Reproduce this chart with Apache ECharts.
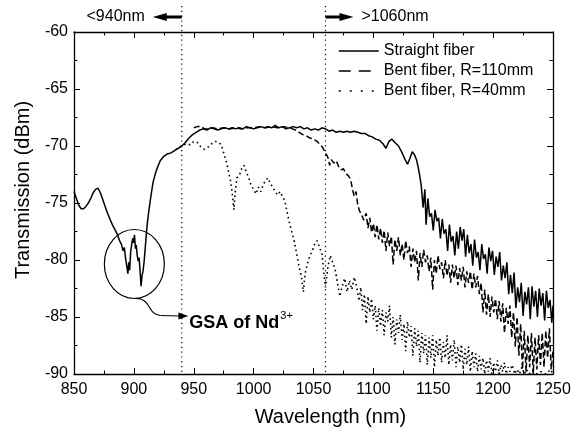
<!DOCTYPE html>
<html>
<head>
<meta charset="utf-8">
<script src="https://cdn.jsdelivr.net/npm/echarts@6/dist/echarts.min.js"></script>
<style>html,body{margin:0;padding:0;background:#fff}#c{width:583px;height:432px}</style>
</head>
<body>
<div id="c"></div>
<script>
// ---- data ----
const xTicks = [850, 900, 950, 1000, 1050, 1100, 1150, 1200, 1250];
const yTicks = [-90, -85, -80, -75, -70, -65, -60];
const seriesNames = ['Straight fiber', 'Bent fiber, R=110mm', 'Bent fiber, R=40mm'];

const straightNm = [850,852,854,856,858,860,862,864,866,868,870,872,874,876,878,880,882,884,886,888,889.5,891,892,893,894,895,895.7,896.5,897.3,898.2,899,899.8,900.5,901.3,902,902.8,903.6,904.4,905.2,906,906.8,907.6,908.5,909.3,910.2,911,912,913,914.5,916,918,920,922,925,928,931,934,937,940,943,946,949,952,955,958,961,964,967,970,973,976,979,982,985,988,991,994,997,1000,1003,1006,1009,1012,1015,1018,1021,1024,1027,1030,1033,1036,1039,1042,1045,1048,1051,1054,1057,1060,1063,1066,1069,1072,1075,1078,1081,1084,1087,1090,1093,1096,1099,1102,1105,1108,1110.5,1113,1115.5,1118,1121,1124,1126.5,1128.5,1130.5,1132.5,1134.5,1136,1137.5,1139,
1140,1141.5,1143,1144,1145.5,1147,1148.5,1150,1151.5,1153,1154.5,1156,1157.5,1159,1160.5,1162,1163.5,1165,1166.5,1168,1169.5,1171,1172.5,1174,1175.5,1177,1178.5,1180,1181.5,1183,1184.5,1186,1187.5,1189,1190.5,1192,1193.5,1195,1196.5,1198,1199.5,1201,1202.5,1204,1205.5,1207,1208.5,1210,1211.5,1213,1214.5,1216,1217.5,1219,1220.5,1222,1223.5,1225,1226.5,1228,1229.5,1231,1232.5,1234,1235.5,1237,1238.5,1240,1241.5,1243,1244.5,1246,1247.5,1249,1250];
const straightDb = [-74.0,-74.6,-75.2,-75.5,-75.5,-75.3,-75.0,-74.6,-74.1,-73.8,-73.7,-74.1,-74.7,-75.3,-75.9,-76.4,-76.9,-77.3,-77.7,-78.3,-78.6,-79.2,-78.9,-79.8,-80.5,-81.2,-80.2,-80.9,-79.3,-78.6,-78.1,-78.5,-77.8,-79.0,-78.7,-79.6,-80.1,-79.8,-81.0,-82.3,-81.4,-81.0,-80.2,-79.2,-78.0,-77.0,-76.1,-75.3,-74.2,-73.2,-72.4,-71.8,-71.3,-70.9,-70.7,-70.6,-70.4,-70.2,-70.0,-69.7,-69.3,-69.0,-68.8,-68.6,-68.5,-68.6,-68.4,-68.5,-68.6,-68.5,-68.4,-68.5,-68.4,-68.5,-68.4,-68.5,-68.3,-68.4,-68.5,-68.4,-68.3,-68.4,-68.3,-68.4,-68.2,-68.4,-68.3,-68.5,-68.4,-68.3,-68.4,-68.3,-68.5,-68.4,-68.6,-68.5,-68.6,-68.4,-68.5,-68.7,-68.6,-68.8,-68.7,-68.8,-68.7,-68.8,-68.7,-68.8,-68.9,-68.9,-69.1,-69.2,-69.4,-69.5,-69.8,-70.2,-69.6,-69.4,-69.7,-70.0,-70.6,-71.2,-71.6,-71.1,-70.5,-70.8,-71.2,-71.9,-72.8,
-73.5,-75.4,-73.8,-76.9,-74.6,-76.2,-75.9,-77.4,-75.6,-76.6,-76.3,-78.1,-76.4,-77.7,-77.3,-79.2,-76.9,-78.4,-77.9,-79.6,-77.5,-79.0,-77.1,-78.3,-77.3,-79.7,-77.8,-79.4,-78.6,-80.5,-78.2,-79.8,-79.3,-80.9,-78.6,-79.9,-79.5,-81.2,-78.9,-80.1,-79.2,-81.3,-79.7,-80.6,-79.3,-81.8,-80.5,-81.6,-80.2,-83.0,-81.3,-82.9,-81.1,-84.2,-82.4,-83.7,-82.0,-84.9,-82.8,-83.9,-82.4,-85.2,-82.3,-84.1,-82.7,-85.0,-82.5,-84.0,-82.9,-85.3,-82.7,-84.2,-83.5,-85.5,-84.0];

const bent110Nm = [950,953,956,959,962,966,970,975,980,985,990,995,1000,1005,1010,1015,1020,1025,1030,1035,1038,1041,1044,1047,1050,1053,1056,1058,1060,1062,1063.5,1065,1067,1069,1071,1073,1075,1077,1079,1081,1082.5,1084,1085.5,1087,1088.5,1090,
1092,1094,1095.5,1097,1098.5,1100,1101.5,1103,1104.5,1106,1107.5,1109,1110.5,1112,1113.5,1115,1116.5,1118,1119.5,1121,1122.5,1124,1125.5,1127,1128.5,1130,1131.5,1133,1134.5,1136,1137.5,1139,1140.5,1142,1143.5,1145,1146.5,1148,1149.5,1151,1152.5,1154,1155.5,1157,1158.5,1160,1161.5,1163,1164.5,1166,1167.5,1169,1170.5,1172,1173.5,1175,1176.5,1178,1179.5,1181,1182.5,1184,1185.5,1187,1188.5,1190,1191.5,1193,1194.5,1196,1197.5,1199,1200.5,1202,1203.5,1205,1206.5,1208,1209.5,1211,1212.5,1214,1215.5,1217,1218.5,1220,1221.5,1223,1224.5,1226,1227.5,1229,1230.5,1232,1233.5,1235,1236.5,1238,1239.5,1241,1242.5,1244,1245.5,1247,1248.5,1250];
const bent110Db = [-68.4,-68.3,-68.3,-68.5,-68.5,-68.4,-68.5,-68.4,-68.5,-68.4,-68.5,-68.4,-68.4,-68.3,-68.4,-68.3,-68.4,-68.3,-68.4,-68.6,-68.8,-69.0,-69.1,-69.3,-69.4,-69.6,-69.9,-70.2,-70.6,-71.0,-71.7,-71.2,-71.5,-71.3,-71.8,-72.1,-72.0,-72.4,-72.6,-72.9,-73.8,-74.4,-74.0,-75.2,-75.7,-76.0,
-76.5,-75.9,-77.2,-76.3,-77.6,-76.8,-78.0,-76.9,-78.2,-77.2,-78.5,-77.4,-79.2,-77.6,-78.8,-77.9,-80.4,-78.2,-79.2,-78.0,-79.6,-78.6,-80.0,-78.3,-79.4,-78.8,-80.6,-79.0,-80.2,-79.2,-81.8,-79.4,-80.6,-79.1,-80.2,-79.6,-81.0,-79.8,-82.6,-80.0,-81.2,-79.6,-80.8,-80.2,-81.6,-80.0,-81.4,-80.4,-82.0,-80.4,-81.6,-80.5,-82.2,-80.7,-81.8,-80.6,-82.4,-81.0,-82.0,-81.0,-82.6,-81.2,-82.4,-81.4,-83.0,-82.0,-84.6,-82.6,-84.8,-83.0,-85.0,-83.2,-84.6,-83.4,-85.2,-83.6,-85.4,-83.8,-86.4,-84.2,-85.6,-84.0,-86.8,-84.6,-87.6,-85.0,-88.4,-85.6,-89.6,-86.2,-89.8,-86.6,-89.4,-86.4,-90.0,-86.8,-89.6,-86.6,-89.2,-86.4,-89.4,-86.2,-88.6,-86.0,-89.6,-88.0];

const bent40Nm = [935,940,944,947,950,953,956,959,962,965,968,971,973,975,977,979,981,982.5,983.5,984.5,986,988,990,992,994,996,998,1000,1002,1004,1006,1008,1010,1012,1014,1016,1018,1020,1022,1024,1026,1028,1030,1032,1034,1036,1038,1040,1041.5,1043,1045,1047,1049,1051,1053,1055,1057,1058.5,1060,1062,1064,1066,1068,1070,1072,1074,1076,1078,1080,1082,1084,1086,
1088,1089.5,1091,1092.5,1094,1095.5,1097,1098.5,1100,1101.5,1103,1104.5,1106,1107.5,1109,1110.5,1112,1113.5,1115,1116.5,1118,1119.5,1121,1122.5,1124,1125.5,1127,1128.5,1130,1131.5,1133,1134.5,1136,1137.5,1139,1140.5,1142,1143.5,1145,1146.5,1148,1149.5,1151,1152.5,1154,1155.5,1157,1158.5,1160,1161.5,1163,1164.5,1166,1167.5,1169,1170.5,1172,1173.5,1175,1176.5,1178,1179.5,1181,1182.5,1184,1185.5,1187,1188.5,1190,1191.5,1193,1194.5,1196,1197.5,1199,1200.5,1202,1203.5,1205,1206.5,1208,1209.5,1211,1212.5,1214,1216,1218,1220,1222,1224,1226,1228,1230,1233,1236,1240,1244,1248,1250];
const bent40Db = [-70.3,-70.0,-69.8,-69.9,-69.6,-69.7,-70.1,-70.3,-70.1,-69.8,-69.6,-69.7,-69.9,-70.6,-71.3,-72.2,-73.2,-74.5,-75.6,-74.2,-72.8,-72.6,-72.0,-71.7,-72.3,-72.8,-73.5,-73.8,-74.2,-73.6,-74.0,-73.4,-73.0,-72.8,-73.3,-73.6,-74.0,-74.3,-74.0,-74.4,-74.8,-75.8,-76.8,-77.6,-78.4,-79.5,-80.6,-81.5,-82.8,-81.2,-80.3,-79.6,-79.2,-78.6,-78.3,-78.9,-79.4,-81.0,-82.4,-80.6,-79.6,-80.2,-80.8,-82.0,-83.2,-82.3,-81.6,-82.8,-81.8,-82.6,-81.5,-82.3,
-83.6,-82.4,-84.4,-83.0,-85.6,-83.2,-84.6,-83.4,-85.2,-84.0,-86.2,-84.2,-85.8,-84.4,-86.6,-84.6,-85.4,-84.0,-86.8,-85.0,-87.4,-85.2,-86.4,-84.8,-87.0,-85.6,-88.0,-85.4,-86.8,-85.8,-88.4,-86.0,-87.6,-86.2,-89.0,-86.4,-88.2,-86.6,-89.2,-86.8,-88.6,-86.6,-89.4,-87.0,-88.4,-86.8,-89.0,-87.2,-88.6,-86.6,-89.2,-87.4,-88.8,-87.0,-89.4,-87.6,-89.0,-87.4,-89.6,-87.8,-89.2,-87.6,-89.8,-88.0,-89.4,-88.2,-89.8,-88.4,-89.6,-88.6,-90.0,-88.8,-89.8,-88.6,-90.0,-89.0,-89.8,-88.8,-90.0,-89.2,-89.8,-89.0,-90.0,-89.4,-89.8,-89.2,-90.0,-89.6,-90.0,-89.4,-90.0,-89.6,-90.0,-89.7,-90.0,-89.8,-90.0,-89.6,-90.0];

// annotation anchors (data units)
const refLinesNm = [940, 1060];
const refLabels = ['<940nm', '>1060nm'];
const gsaCenter = [900.4, -80.35];
const gsaLabel = 'GSA of Nd';
const gsaSup = '3+';

const FONT = '"Liberation Sans", Arial, Helvetica, sans-serif';
const pairs = (xs, ys) => xs.map((x, i) => [x, ys[i]]);

const chart = echarts.init(document.getElementById('c'), null, {renderer: 'canvas'});

const axisCommon = {
  type: 'value',
  axisLine: {show: true, onZero: false, lineStyle: {color: '#000', width: 1.3}},
  axisTick: {show: true, inside: true, length: 6, lineStyle: {color: '#000', width: 1}},
  minorTick: {show: true, splitNumber: 2, length: 3.5, lineStyle: {color: '#000', width: 1}},
  splitLine: {show: false},
  minorSplitLine: {show: false}
};
const plain = (v) => String(v);

const option = {
  animation: false,
  backgroundColor: '#fff',
  textStyle: {fontFamily: FONT},
  grid: {left: 74, right: 30, top: 32, bottom: 55, containLabel: false},
  xAxis: [
    Object.assign({}, axisCommon, {
      min: xTicks[0], max: xTicks[xTicks.length - 1], interval: 50, position: 'bottom',
      axisLabel: {color: '#000', fontSize: 16, margin: 8, fontFamily: FONT, formatter: plain},
      name: 'Wavelength (nm)', nameLocation: 'middle', nameGap: 33,
      nameTextStyle: {color: '#000', fontSize: 20, fontFamily: FONT, padding: [0, 0, 0, 34]}
    }),
    Object.assign({}, axisCommon, {
      min: xTicks[0], max: xTicks[xTicks.length - 1], interval: 50, position: 'top',
      axisLabel: {show: false}
    })
  ],
  yAxis: [
    Object.assign({}, axisCommon, {
      min: yTicks[0], max: yTicks[yTicks.length - 1], interval: 5, position: 'left',
      axisLabel: {color: '#000', fontSize: 16, margin: 6, fontFamily: FONT, formatter: plain},
      name: 'Transmission (dBm)', nameLocation: 'middle', nameGap: 39,
      nameTextStyle: {color: '#000', fontSize: 20, fontFamily: FONT, padding: [0, 0, 0, 26]}
    }),
    Object.assign({}, axisCommon, {
      min: yTicks[0], max: yTicks[yTicks.length - 1], interval: 5, position: 'right',
      axisLabel: {show: false}
    })
  ],
  legend: {
    orient: 'vertical', left: 338, top: 43, padding: 0,
    itemWidth: 40, itemHeight: 14, itemGap: 4,
    itemStyle: {opacity: 0},
    textStyle: {color: '#000', fontSize: 16, lineHeight: 16, fontFamily: FONT},
    data: [
      {name: seriesNames[0], itemStyle: {opacity: 0}, lineStyle: {color: '#000', width: 1.5, type: 'solid', opacity: 1}},
      {name: seriesNames[1], itemStyle: {opacity: 0}, lineStyle: {color: '#000', width: 1.5, type: [12, 8], opacity: 1}},
      {name: seriesNames[2], itemStyle: {opacity: 0}, lineStyle: {color: '#000', width: 1.5, type: [2, 9], opacity: 1}}
    ]
  },
  series: [
    {name: seriesNames[0], type: 'line', data: pairs(straightNm, straightDb), symbol: 'none', clip: true,
     lineStyle: {color: '#000', width: 1.5, type: 'solid'}, itemStyle: {color: '#000'}, z: 3},
    {name: seriesNames[1], type: 'line', data: pairs(bent110Nm, bent110Db), symbol: 'none', clip: true,
     lineStyle: {color: '#000', width: 1.5, type: [6, 3]}, itemStyle: {color: '#000'}, z: 2},
    {name: seriesNames[2], type: 'line', data: pairs(bent40Nm, bent40Db), symbol: 'none', clip: true,
     lineStyle: {color: '#000', width: 1.6, type: [1.6, 3.2]}, itemStyle: {color: '#000'}, z: 1}
  ]
};
chart.setOption(option);

// annotations placed through the axis scales
const px = (x, y) => chart.convertToPixel({xAxisIndex: 0, yAxisIndex: 0}, [x, y]);
const bottomY = px(850, -90)[1];
const g = [];
refLinesNm.forEach((nm) => {
  const x = px(nm, -90)[0];
  g.push({type: 'line', shape: {x1: x, y1: 6, x2: x, y2: bottomY},
          style: {stroke: '#000', lineWidth: 1.2, lineDash: [1.2, 3.6]}, z: 10});
});
(function () {
  const x = px(refLinesNm[0], -60)[0];
  const y = 17;
  g.push({type: 'line', shape: {x1: x - 16, y1: y, x2: x, y2: y}, style: {stroke: '#000', lineWidth: 3}, z: 10});
  g.push({type: 'polygon', shape: {points: [[x - 29, y], [x - 15, y - 4], [x - 15, y + 4]]}, style: {fill: '#000'}, z: 10});
  g.push({type: 'text', x: x - 37, y: y, style: {text: refLabels[0], font: '16px ' + FONT, fill: '#000', align: 'right', verticalAlign: 'middle'}, z: 10});
})();
(function () {
  const x = px(refLinesNm[1], -60)[0];
  const y = 17;
  g.push({type: 'line', shape: {x1: x, y1: y, x2: x + 15, y2: y}, style: {stroke: '#000', lineWidth: 3}, z: 10});
  g.push({type: 'polygon', shape: {points: [[x + 28, y], [x + 14, y - 4], [x + 14, y + 4]]}, style: {fill: '#000'}, z: 10});
  g.push({type: 'text', x: x + 36, y: y, style: {text: refLabels[1], font: '16px ' + FONT, fill: '#000', align: 'left', verticalAlign: 'middle'}, z: 10});
})();
(function () {
  const c = px(gsaCenter[0], gsaCenter[1]);
  const rx = 30, ry = 34.5;
  g.push({type: 'ellipse', shape: {cx: c[0], cy: c[1], rx: rx, ry: ry}, style: {fill: 'none', stroke: '#000', lineWidth: 1.2}, z: 10});
  const sx = c[0], sy = c[1] + ry;
  g.push({type: 'bezierCurve', shape: {x1: sx, y1: sy, cpx1: sx + 18, cpy1: sy - 1, cpx2: sx + 12, cpy2: sy + 16, x2: sx + 26, y2: sy + 17},
          style: {stroke: '#000', lineWidth: 1.2, fill: 'none'}, z: 10});
  g.push({type: 'line', shape: {x1: sx + 26, y1: sy + 17, x2: sx + 46, y2: sy + 17.5}, style: {stroke: '#000', lineWidth: 1.2}, z: 10});
  g.push({type: 'polygon', shape: {points: [[sx + 54, sy + 17.5], [sx + 44, sy + 14], [sx + 44, sy + 21]]}, style: {fill: '#000'}, z: 10});
  g.push({type: 'text', x: sx + 55, y: sy + 23, z: 10,
          style: {text: '{b|' + gsaLabel + '}{s|' + gsaSup + '}', fill: '#000', verticalAlign: 'middle', align: 'left',
                  rich: {b: {fontSize: 18, fontWeight: 'bold', fontFamily: FONT, lineHeight: 22, verticalAlign: 'bottom'},
                         s: {fontSize: 11, fontFamily: FONT, lineHeight: 22, verticalAlign: 'top', padding: [0, 0, 0, 1]}}}});
})();
chart.setOption({graphic: g});
</script>
</body>
</html>
